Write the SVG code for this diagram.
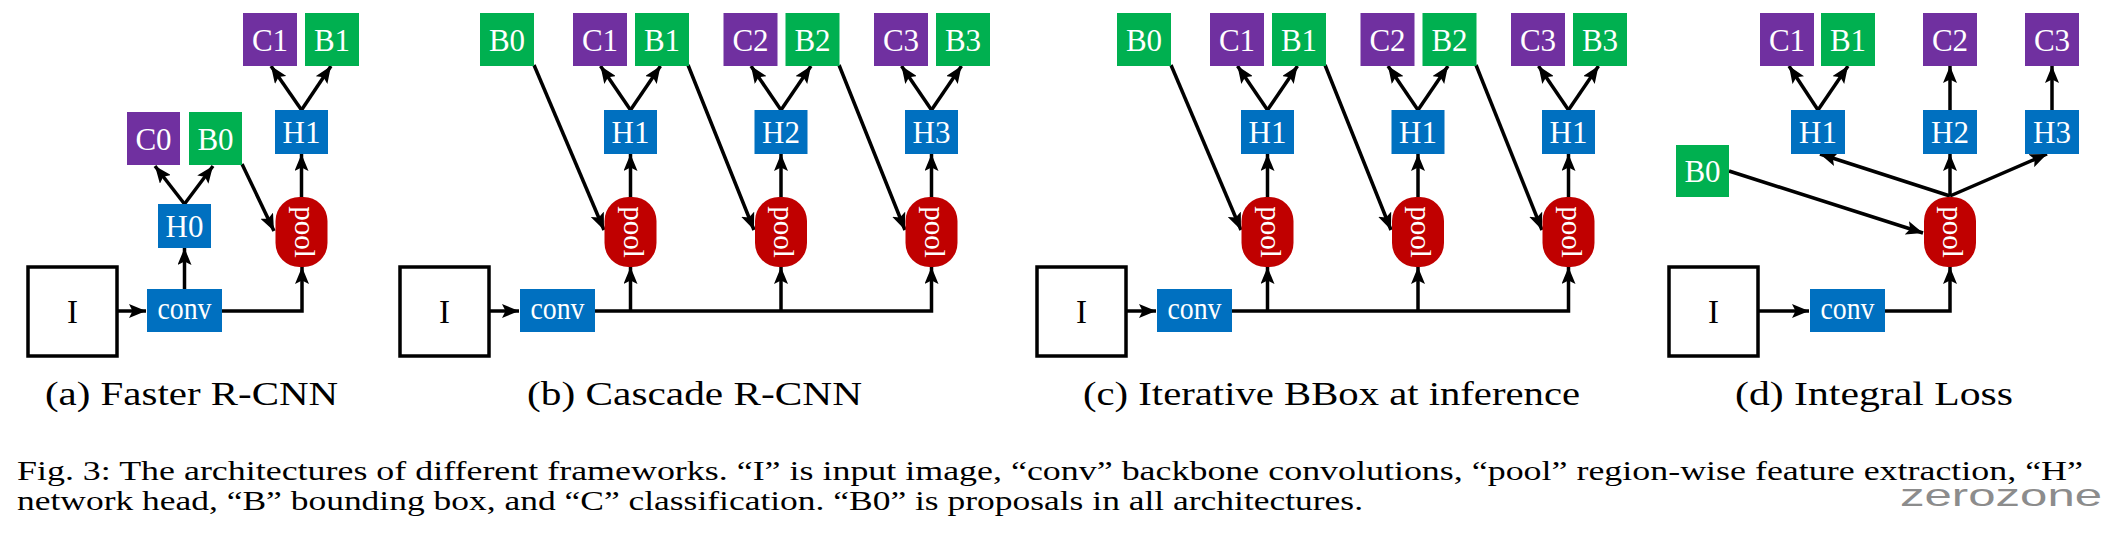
<svg xmlns="http://www.w3.org/2000/svg" width="2111" height="533" viewBox="0 0 2111 533">
<style>
.c{fill:#7030A0}.b{fill:#00B050}.h{fill:#0070C0}.p{fill:#C00000}
.i{fill:#fff;stroke:#000;stroke-width:3.5}
.t{font-family:"Liberation Serif","Times New Roman",serif;font-size:31px;fill:#fff;text-anchor:middle}
.ti{font-family:"Liberation Serif","Times New Roman",serif;font-size:33px;fill:#000;text-anchor:middle}
.tp{font-family:"Liberation Serif","Times New Roman",serif;font-size:29px;fill:#fff;text-anchor:middle}
.cap{font-family:"Liberation Serif","Times New Roman",serif;font-size:34px;fill:#000}
.fig{font-family:"Liberation Serif","Times New Roman",serif;font-size:28px;fill:#000}
.wm{font-family:"Liberation Sans",Arial,sans-serif;font-size:32px;fill:#8c8c8c}
#conn path{fill:none;stroke:#000;stroke-width:3.5;marker-end:url(#ah)}
</style>
<defs>
<marker id="ah" viewBox="0 0 17 14" refX="17" refY="7" markerWidth="17" markerHeight="14" markerUnits="userSpaceOnUse" orient="auto">
<path d="M0,0 L17,7 L0,14 L3.5,7 z" fill="#000"/>
</marker>
</defs>
<rect width="2111" height="533" fill="#fff"/>

<g id="conn">
<!-- panel a -->
<path d="M117,311 H146"/>
<path d="M184.5,289 V248"/>
<path d="M184.5,204 L155,166"/>
<path d="M184.5,204 L213,166"/>
<path d="M242,164 L274,231"/>
<path d="M222,311 H302 V267"/>
<path d="M301.5,197 V154"/>
<path d="M301.5,110 L271,66"/>
<path d="M301.5,110 L331,66"/>
<!-- panel b -->
<path d="M489,311 H519"/>
<path d="M595,311 H931.5 V267"/>
<path d="M630.5,311 V267"/>
<path d="M781,311 V267"/>
<path d="M534,65 L604,230"/>
<path d="M688,65 L754,230"/>
<path d="M839,65 L905,230"/>
<path d="M630.5,197 V154"/>
<path d="M781,197 V154"/>
<path d="M931.5,197 V154"/>
<path d="M630.5,110 L600.5,66"/>
<path d="M630.5,110 L660.5,66"/>
<path d="M781,110 L751,66"/>
<path d="M781,110 L811,66"/>
<path d="M931.5,110 L901.5,66"/>
<path d="M931.5,110 L961.5,66"/>
<!-- panel c -->
<path d="M1126,311 H1156"/>
<path d="M1232,311 H1568.5 V267"/>
<path d="M1267.5,311 V267"/>
<path d="M1418,311 V267"/>
<path d="M1171,65 L1241,230"/>
<path d="M1325,65 L1391,230"/>
<path d="M1476,65 L1542,230"/>
<path d="M1267.5,197 V154"/>
<path d="M1418,197 V154"/>
<path d="M1568.5,197 V154"/>
<path d="M1267.5,110 L1237.5,66"/>
<path d="M1267.5,110 L1297.5,66"/>
<path d="M1418,110 L1388,66"/>
<path d="M1418,110 L1448,66"/>
<path d="M1568.5,110 L1538.5,66"/>
<path d="M1568.5,110 L1598.5,66"/>
<!-- panel d -->
<path d="M1758,311 H1809"/>
<path d="M1885,311 H1950 V267"/>
<path d="M1729,171 L1923,233"/>
<path d="M1950,196 L1820,154"/>
<path d="M1950,196 V154"/>
<path d="M1950,196 L2047,154"/>
<path d="M1818,110 L1789,66"/>
<path d="M1818,110 L1848,66"/>
<path d="M1950,110 V66"/>
<path d="M2052,110 V66"/>
</g>

<!-- panel a nodes -->
<g id="a_I"><rect class="i" x="28" y="267" width="89" height="89"/><text class="ti" x="72.5" y="323">I</text></g>
<g id="a_conv"><rect class="h" x="147" y="289" width="75" height="43"/><text class="t" x="184.5" y="319" textLength="54" lengthAdjust="spacingAndGlyphs">conv</text></g>
<g id="a_H0"><rect class="h" x="158" y="204" width="53" height="44"/><text class="t" x="184.5" y="237">H0</text></g>
<g id="a_C0"><rect class="c" x="127" y="112" width="53" height="53"/><text class="t" x="153.5" y="150">C0</text></g>
<g id="a_B0"><rect class="b" x="189" y="112" width="53" height="53"/><text class="t" x="215.5" y="150">B0</text></g>
<g id="a_pool"><rect class="p" x="275.5" y="197" width="52" height="70" rx="24" ry="24"/><text class="tp" transform="translate(301.5,232) rotate(90)" dy="0.23em">pool</text></g>
<g id="a_H1"><rect class="h" x="275" y="110" width="53" height="44"/><text class="t" x="301.5" y="143">H1</text></g>
<g id="a_C1"><rect class="c" x="243" y="13" width="54" height="53"/><text class="t" x="270" y="51">C1</text></g>
<g id="a_B1"><rect class="b" x="305" y="13" width="54" height="53"/><text class="t" x="332" y="51">B1</text></g>

<!-- panel b nodes -->
<g id="b_I"><rect class="i" x="400" y="267" width="89" height="89"/><text class="ti" x="444.5" y="323">I</text></g>
<g id="b_conv"><rect class="h" x="520" y="289" width="75" height="43"/><text class="t" x="557.5" y="319" textLength="54" lengthAdjust="spacingAndGlyphs">conv</text></g>
<g id="b_B0"><rect class="b" x="480" y="13" width="54" height="53"/><text class="t" x="507" y="51">B0</text></g>
<g id="b_pool1"><rect class="p" x="604.5" y="197" width="52" height="70" rx="24" ry="24"/><text class="tp" transform="translate(630.5,232) rotate(90)" dy="0.23em">pool</text></g>
<g id="b_H1"><rect class="h" x="604" y="110" width="53" height="44"/><text class="t" x="630.5" y="143">H1</text></g>
<g id="b_C1"><rect class="c" x="573" y="13" width="54" height="53"/><text class="t" x="600" y="51">C1</text></g>
<g id="b_B1"><rect class="b" x="635" y="13" width="54" height="53"/><text class="t" x="662" y="51">B1</text></g>
<g id="b_pool2"><rect class="p" x="755" y="197" width="52" height="70" rx="24" ry="24"/><text class="tp" transform="translate(781,232) rotate(90)" dy="0.23em">pool</text></g>
<g id="b_H2"><rect class="h" x="754.5" y="110" width="53" height="44"/><text class="t" x="781" y="143">H2</text></g>
<g id="b_C2"><rect class="c" x="723.5" y="13" width="54" height="53"/><text class="t" x="750.5" y="51">C2</text></g>
<g id="b_B2"><rect class="b" x="785.5" y="13" width="54" height="53"/><text class="t" x="812.5" y="51">B2</text></g>
<g id="b_pool3"><rect class="p" x="905.5" y="197" width="52" height="70" rx="24" ry="24"/><text class="tp" transform="translate(931.5,232) rotate(90)" dy="0.23em">pool</text></g>
<g id="b_H3"><rect class="h" x="905" y="110" width="53" height="44"/><text class="t" x="931.5" y="143">H3</text></g>
<g id="b_C3"><rect class="c" x="874" y="13" width="54" height="53"/><text class="t" x="901" y="51">C3</text></g>
<g id="b_B3"><rect class="b" x="936" y="13" width="54" height="53"/><text class="t" x="963" y="51">B3</text></g>

<!-- panel c nodes -->
<g id="c_I"><rect class="i" x="1037" y="267" width="89" height="89"/><text class="ti" x="1081.5" y="323">I</text></g>
<g id="c_conv"><rect class="h" x="1157" y="289" width="75" height="43"/><text class="t" x="1194.5" y="319" textLength="54" lengthAdjust="spacingAndGlyphs">conv</text></g>
<g id="c_B0"><rect class="b" x="1117" y="13" width="54" height="53"/><text class="t" x="1144" y="51">B0</text></g>
<g id="c_pool1"><rect class="p" x="1241.5" y="197" width="52" height="70" rx="24" ry="24"/><text class="tp" transform="translate(1267.5,232) rotate(90)" dy="0.23em">pool</text></g>
<g id="c_H1a"><rect class="h" x="1241" y="110" width="53" height="44"/><text class="t" x="1267.5" y="143">H1</text></g>
<g id="c_C1"><rect class="c" x="1210" y="13" width="54" height="53"/><text class="t" x="1237" y="51">C1</text></g>
<g id="c_B1"><rect class="b" x="1272" y="13" width="54" height="53"/><text class="t" x="1299" y="51">B1</text></g>
<g id="c_pool2"><rect class="p" x="1392" y="197" width="52" height="70" rx="24" ry="24"/><text class="tp" transform="translate(1418,232) rotate(90)" dy="0.23em">pool</text></g>
<g id="c_H1b"><rect class="h" x="1391.5" y="110" width="53" height="44"/><text class="t" x="1418" y="143">H1</text></g>
<g id="c_C2"><rect class="c" x="1360.5" y="13" width="54" height="53"/><text class="t" x="1387.5" y="51">C2</text></g>
<g id="c_B2"><rect class="b" x="1422.5" y="13" width="54" height="53"/><text class="t" x="1449.5" y="51">B2</text></g>
<g id="c_pool3"><rect class="p" x="1542.5" y="197" width="52" height="70" rx="24" ry="24"/><text class="tp" transform="translate(1568.5,232) rotate(90)" dy="0.23em">pool</text></g>
<g id="c_H1c"><rect class="h" x="1542" y="110" width="53" height="44"/><text class="t" x="1568.5" y="143">H1</text></g>
<g id="c_C3"><rect class="c" x="1511" y="13" width="54" height="53"/><text class="t" x="1538" y="51">C3</text></g>
<g id="c_B3"><rect class="b" x="1573" y="13" width="54" height="53"/><text class="t" x="1600" y="51">B3</text></g>

<!-- panel d nodes -->
<g id="d_I"><rect class="i" x="1669" y="267" width="89" height="89"/><text class="ti" x="1713.5" y="323">I</text></g>
<g id="d_conv"><rect class="h" x="1810" y="289" width="75" height="43"/><text class="t" x="1847.5" y="319" textLength="54" lengthAdjust="spacingAndGlyphs">conv</text></g>
<g id="d_B0"><rect class="b" x="1676" y="145" width="53" height="52"/><text class="t" x="1702.5" y="182">B0</text></g>
<g id="d_pool"><rect class="p" x="1924" y="197" width="52" height="70" rx="24" ry="24"/><text class="tp" transform="translate(1950,232) rotate(90)" dy="0.23em">pool</text></g>
<g id="d_H1"><rect class="h" x="1791" y="110" width="54" height="44"/><text class="t" x="1818" y="143">H1</text></g>
<g id="d_H2"><rect class="h" x="1923" y="110" width="54" height="44"/><text class="t" x="1950" y="143">H2</text></g>
<g id="d_H3"><rect class="h" x="2025" y="110" width="54" height="44"/><text class="t" x="2052" y="143">H3</text></g>
<g id="d_C1"><rect class="c" x="1760" y="13" width="54" height="53"/><text class="t" x="1787" y="51">C1</text></g>
<g id="d_B1"><rect class="b" x="1821" y="13" width="54" height="53"/><text class="t" x="1848" y="51">B1</text></g>
<g id="d_C2"><rect class="c" x="1923" y="13" width="54" height="53"/><text class="t" x="1950" y="51">C2</text></g>
<g id="d_C3"><rect class="c" x="2025" y="13" width="54" height="53"/><text class="t" x="2052" y="51">C3</text></g>

<!-- captions -->
<g id="captions">
<text class="cap" x="45" y="405" textLength="293" lengthAdjust="spacingAndGlyphs">(a) Faster R-CNN</text>
<text class="cap" x="527" y="405" textLength="335" lengthAdjust="spacingAndGlyphs">(b) Cascade R-CNN</text>
<text class="cap" x="1083" y="405" textLength="497" lengthAdjust="spacingAndGlyphs">(c) Iterative BBox at inference</text>
<text class="cap" x="1735" y="405" textLength="278" lengthAdjust="spacingAndGlyphs">(d) Integral Loss</text>
<text class="fig" x="17" y="480" textLength="2066" lengthAdjust="spacingAndGlyphs">Fig. 3: The architectures of different frameworks. “I” is input image, “conv” backbone convolutions, “pool” region-wise feature extraction, “H”</text>
<text class="fig" x="17" y="510" textLength="1346" lengthAdjust="spacingAndGlyphs">network head, “B” bounding box, and “C” classification. “B0” is proposals in all architectures.</text>
<text class="wm" x="1900" y="506" textLength="202" lengthAdjust="spacingAndGlyphs">zerozone</text>
</g>
</svg>
